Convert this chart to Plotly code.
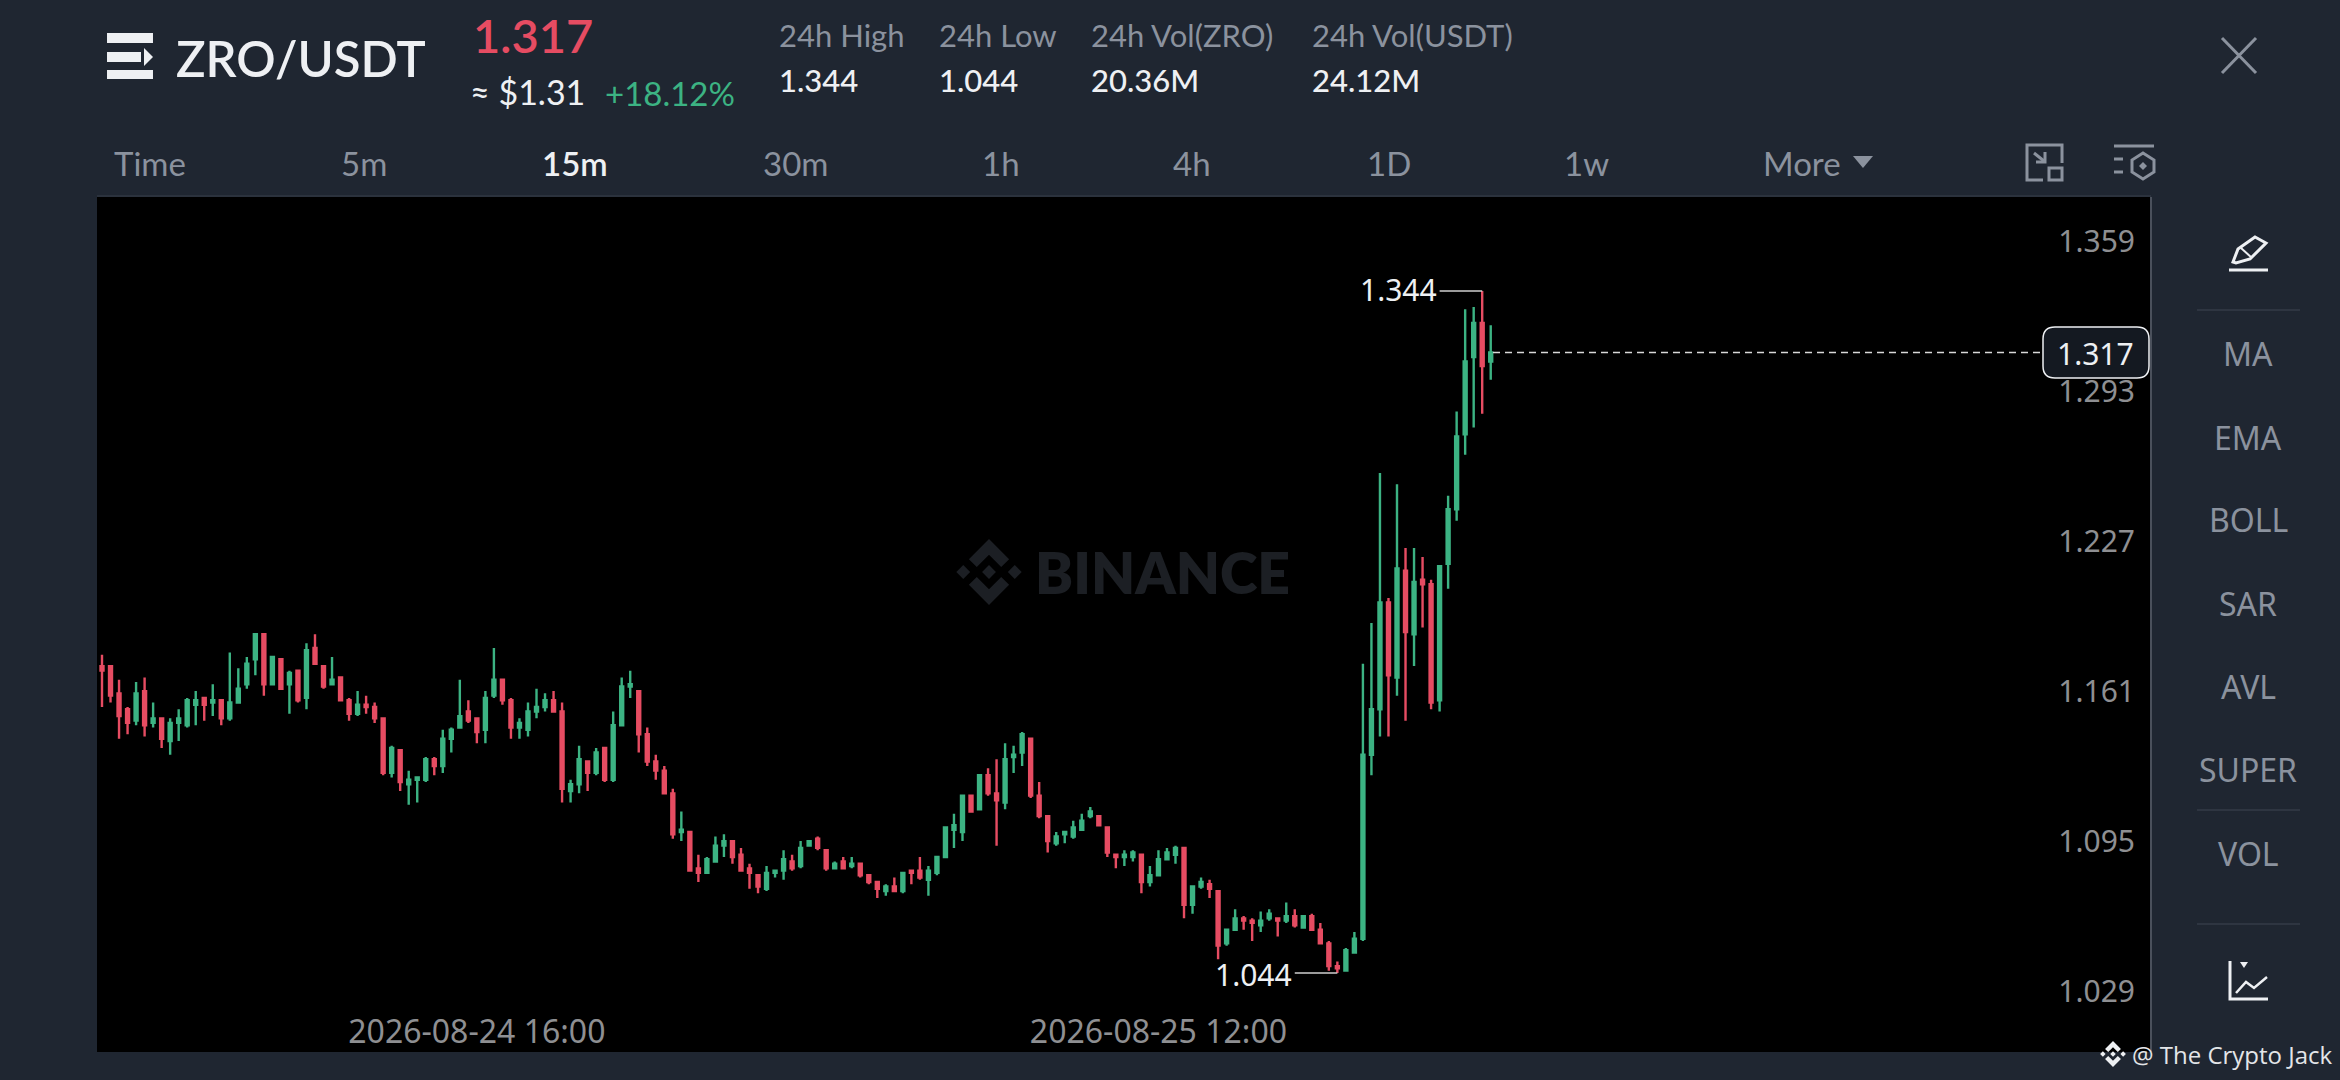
"""ZRO/USDT 15m candlestick screen, Binance style."""
import pandas as pd
import plotly.graph_objects as go

WIDTH = 2340
HEIGHT = 1080

BG = "#1f2631"
GREY = "#8b929e"
AXIS_GREY = "#8e8f92"
WHITE = "#eef0f3"
GREEN = "#3cb383"
RED = "#e64c62"
UI_FONT = "Lato"
NUM_FONT = "Noto Sans"

opens = [1.179, 1.179, 1.167, 1.160, 1.155, 1.168, 1.154, 1.156, 1.146, 1.154,
         1.153, 1.162, 1.165, 1.163, 1.164, 1.156, 1.163, 1.171, 1.182, 1.193,
         1.171, 1.182, 1.171, 1.177, 1.165, 1.187, 1.179, 1.171, 1.174, 1.164,
         1.158, 1.162, 1.161, 1.156, 1.132, 1.142, 1.127, 1.129, 1.129, 1.138,
         1.135, 1.147, 1.152, 1.159, 1.156, 1.151, 1.166, 1.173, 1.164, 1.152,
         1.151, 1.159, 1.161, 1.164, 1.159, 1.124, 1.127, 1.137, 1.132, 1.143,
         1.129, 1.153, 1.170, 1.168, 1.149, 1.137, 1.133, 1.123, 1.106, 1.106,
         1.090, 1.088, 1.093, 1.100, 1.102, 1.096, 1.090, 1.087, 1.081, 1.088,
         1.089, 1.093, 1.091, 1.100, 1.103, 1.098, 1.090, 1.093, 1.091, 1.092,
         1.087, 1.084, 1.080, 1.082, 1.080, 1.089, 1.089, 1.085, 1.088, 1.095,
         1.107, 1.106, 1.122, 1.116, 1.131, 1.123, 1.119, 1.139, 1.141, 1.147,
         1.122, 1.113, 1.101, 1.105, 1.104, 1.107, 1.113, 1.113, 1.108, 1.096,
         1.095, 1.095, 1.096, 1.084, 1.087, 1.094, 1.096, 1.099, 1.074, 1.082,
         1.083, 1.080, 1.057, 1.063, 1.068, 1.067, 1.065, 1.068, 1.068, 1.067,
         1.069, 1.064, 1.069, 1.063, 1.057, 1.047, 1.045, 1.053, 1.059, 1.140,
         1.160, 1.207, 1.174, 1.221, 1.193, 1.217, 1.215, 1.164, 1.224, 1.248,
         1.281, 1.315, 1.330, 1.313]
highs = [1.184, 1.179, 1.173, 1.161, 1.172, 1.174, 1.163, 1.156, 1.156, 1.160,
         1.165, 1.168, 1.165, 1.171, 1.164, 1.185, 1.178, 1.183, 1.193, 1.193,
         1.183, 1.182, 1.177, 1.177, 1.189, 1.193, 1.179, 1.183, 1.174, 1.165,
         1.168, 1.166, 1.163, 1.156, 1.144, 1.142, 1.133, 1.130, 1.139, 1.139,
         1.151, 1.152, 1.173, 1.164, 1.156, 1.168, 1.187, 1.173, 1.165, 1.156,
         1.163, 1.169, 1.167, 1.168, 1.163, 1.129, 1.144, 1.137, 1.143, 1.143,
         1.159, 1.174, 1.177, 1.168, 1.152, 1.140, 1.135, 1.125, 1.115, 1.106,
         1.096, 1.095, 1.104, 1.105, 1.102, 1.099, 1.092, 1.087, 1.091, 1.089,
         1.098, 1.096, 1.102, 1.102, 1.104, 1.098, 1.093, 1.095, 1.095, 1.092,
         1.087, 1.084, 1.083, 1.086, 1.088, 1.089, 1.095, 1.091, 1.095, 1.108,
         1.114, 1.122, 1.122, 1.131, 1.134, 1.138, 1.145, 1.144, 1.150, 1.147,
         1.128, 1.113, 1.106, 1.106, 1.111, 1.114, 1.117, 1.113, 1.108, 1.096,
         1.098, 1.098, 1.096, 1.091, 1.098, 1.099, 1.100, 1.099, 1.082, 1.086,
         1.085, 1.080, 1.063, 1.072, 1.069, 1.068, 1.071, 1.072, 1.068, 1.075,
         1.072, 1.069, 1.070, 1.066, 1.058, 1.049, 1.055, 1.062, 1.180, 1.198,
         1.264, 1.209, 1.259, 1.231, 1.231, 1.227, 1.217, 1.223, 1.254, 1.291,
         1.336, 1.337, 1.344, 1.329]
lows = [1.161, 1.163, 1.147, 1.149, 1.153, 1.148, 1.152, 1.143, 1.140, 1.146,
        1.152, 1.153, 1.155, 1.157, 1.153, 1.155, 1.163, 1.169, 1.175, 1.166,
        1.171, 1.169, 1.158, 1.163, 1.160, 1.180, 1.169, 1.171, 1.164, 1.155,
        1.157, 1.158, 1.154, 1.131, 1.130, 1.124, 1.118, 1.119, 1.128, 1.131,
        1.132, 1.141, 1.152, 1.154, 1.145, 1.145, 1.165, 1.162, 1.147, 1.147,
        1.148, 1.156, 1.159, 1.159, 1.119, 1.119, 1.123, 1.124, 1.131, 1.128,
        1.128, 1.153, 1.165, 1.141, 1.135, 1.129, 1.123, 1.103, 1.102, 1.089,
        1.084, 1.088, 1.093, 1.095, 1.092, 1.089, 1.081, 1.079, 1.080, 1.086,
        1.085, 1.089, 1.090, 1.100, 1.098, 1.089, 1.090, 1.090, 1.090, 1.086,
        1.083, 1.077, 1.078, 1.080, 1.079, 1.083, 1.085, 1.078, 1.087, 1.095,
        1.099, 1.102, 1.115, 1.116, 1.122, 1.100, 1.116, 1.132, 1.135, 1.121,
        1.112, 1.097, 1.100, 1.101, 1.103, 1.107, 1.112, 1.109, 1.095, 1.090,
        1.091, 1.093, 1.079, 1.082, 1.087, 1.094, 1.092, 1.068, 1.070, 1.081,
        1.077, 1.050, 1.056, 1.063, 1.063, 1.058, 1.062, 1.067, 1.060, 1.066,
        1.064, 1.064, 1.063, 1.057, 1.045, 1.044, 1.045, 1.053, 1.058, 1.131,
        1.148, 1.148, 1.166, 1.155, 1.179, 1.196, 1.160, 1.159, 1.213, 1.243,
        1.272, 1.284, 1.290, 1.305]
closes = [1.177, 1.166, 1.157, 1.154, 1.167, 1.153, 1.156, 1.147, 1.154, 1.156,
          1.164, 1.164, 1.162, 1.164, 1.156, 1.163, 1.169, 1.180, 1.193, 1.171,
          1.183, 1.169, 1.176, 1.164, 1.186, 1.180, 1.170, 1.173, 1.164, 1.158,
          1.162, 1.161, 1.156, 1.132, 1.143, 1.128, 1.129, 1.130, 1.138, 1.135,
          1.147, 1.151, 1.157, 1.155, 1.150, 1.165, 1.173, 1.164, 1.152, 1.154,
          1.159, 1.161, 1.164, 1.159, 1.125, 1.127, 1.138, 1.132, 1.141, 1.129,
          1.153, 1.170, 1.171, 1.149, 1.137, 1.133, 1.123, 1.105, 1.107, 1.089,
          1.088, 1.094, 1.100, 1.102, 1.095, 1.089, 1.088, 1.082, 1.088, 1.089,
          1.094, 1.090, 1.099, 1.102, 1.099, 1.090, 1.092, 1.090, 1.092, 1.087,
          1.084, 1.081, 1.082, 1.080, 1.088, 1.088, 1.086, 1.089, 1.095, 1.108,
          1.109, 1.122, 1.115, 1.131, 1.123, 1.120, 1.138, 1.140, 1.149, 1.122,
          1.113, 1.102, 1.104, 1.106, 1.108, 1.111, 1.115, 1.109, 1.097, 1.095,
          1.096, 1.097, 1.084, 1.087, 1.094, 1.097, 1.099, 1.074, 1.082, 1.084,
          1.081, 1.056, 1.063, 1.068, 1.067, 1.066, 1.067, 1.070, 1.067, 1.069,
          1.065, 1.069, 1.063, 1.057, 1.047, 1.046, 1.054, 1.059, 1.140, 1.160,
          1.207, 1.175, 1.222, 1.194, 1.216, 1.215, 1.163, 1.223, 1.248, 1.280,
          1.313, 1.330, 1.311, 1.317]

times = pd.date_range("2026-08-24 05:00", periods=len(opens), freq="15min")

price_ticks = [1.359, 1.293, 1.227, 1.161, 1.095, 1.029]
date_ticks = ["2026-08-24 16:00", "2026-08-25 12:00"]
last_price = closes[-1]

intervals = ["Time", "5m", "15m", "30m", "1h", "4h", "1D", "1w", "More"]
indicators = ["MA", "EMA", "BOLL", "SAR", "AVL", "SUPER", "VOL"]
stat_names = ["24h High", "24h Low", "24h Vol(ZRO)", "24h Vol(USDT)"]
stat_values = ["1.344", "1.044", "20.36M", "24.12M"]

# pixel layout of the screen furniture
interval_x = [150, 364, 575, 795, 1001, 1192, 1389, 1586, 1802]
indicator_y = [354, 437, 520, 603, 686, 769, 853]
stat_x = [777, 937, 1089, 1310]


def px(x):
    return x / WIDTH


def py(y):
    return 1 - y / HEIGHT


def label(text, x, y, size, color, anchor="left", font=UI_FONT, weight=400):
    return dict(text=text, x=px(x), y=py(y), xref="paper", yref="paper", showarrow=False,
                xanchor=anchor, yanchor="middle",
                font=dict(family=font, size=size, color=color, weight=weight))


def line(x0, y0, x1, y1, color, width=3):
    return dict(type="line", x0=px(x0), y0=py(y0), x1=px(x1), y1=py(y1), xref="paper", yref="paper",
                line=dict(color=color, width=width))


def poly(points, color=None, outline=None, width=3, close=True):
    d = "M" + " L".join(f"{px(x):.5f},{py(y):.5f}" for x, y in points) + (" Z" if close else "")
    return dict(type="path", path=d, xref="paper", yref="paper",
                fillcolor=color if color else "rgba(0,0,0,0)",
                line=dict(color=outline if outline else "rgba(0,0,0,0)", width=width))


def rounded_box(x0, y0, x1, y1, r, color, outline):
    p = lambda x, y: f"{px(x):.5f},{py(y):.5f}"
    d = (f"M{p(x0 + r, y0)} L{p(x1 - r, y0)} Q{p(x1, y0)} {p(x1, y0 + r)} L{p(x1, y1 - r)} "
         f"Q{p(x1, y1)} {p(x1 - r, y1)} L{p(x0 + r, y1)} Q{p(x0, y1)} {p(x0, y1 - r)} "
         f"L{p(x0, y0 + r)} Q{p(x0, y0)} {p(x0 + r, y0)} Z")
    return dict(type="path", path=d, xref="paper", yref="paper", fillcolor=color,
                line=dict(color=outline, width=1.5))


def logo(cx, cy, r, color):
    """Binance diamond mark made of five pieces."""
    out = []
    chevron = [(0, -1), (0.61, -0.39), (0.37, -0.15), (0, -0.52), (-0.37, -0.15), (-0.61, -0.39)]
    small = [(0, -0.21), (0.21, 0), (0, 0.21), (-0.21, 0)]
    for sign in (-1, 1):
        out.append(poly([(cx + a * r, cy + sign * b * r) for a, b in chevron], color))
        out.append(poly([(cx + sign * 0.78 * r + a * r, cy + b * r) for a, b in small], color))
    out.append(poly([(cx + a * r, cy + b * r) for a, b in small], color))
    return out


fig = go.Figure(go.Candlestick(
    x=times, open=opens, high=highs, low=lows, close=closes,
    increasing=dict(line=dict(color=GREEN, width=2.4), fillcolor=GREEN),
    decreasing=dict(line=dict(color=RED, width=2.4), fillcolor=RED),
    whiskerwidth=0,
))

annotations = []
shapes = []

# header
annotations.append(label("ZRO/USDT", 174, 58, 49, WHITE, weight=600))
annotations.append(label("1.317", 471, 35, 47, RED, weight=600))
annotations.append(label("≈ $1.31", 468, 92, 34, WHITE))
annotations.append(label("+18.12%", 603, 93, 33, GREEN))
for name, value, x in zip(stat_names, stat_values, stat_x):
    annotations.append(label(name, x, 35, 31, GREY))
    annotations.append(label(value, x, 80, 31, WHITE, weight=500))

# hamburger mark
shapes += [
    poly([(107, 33), (153, 33), (153, 43), (107, 43)], WHITE),
    poly([(107, 52), (141, 52), (141, 62), (107, 62)], WHITE),
    poly([(144, 48), (153, 57), (144, 66)], WHITE),
    poly([(107, 70), (153, 70), (153, 79), (107, 79)], WHITE),
]

# close cross
shapes.append(line(2222, 38, 2256, 73, GREY, 3))
shapes.append(line(2256, 38, 2222, 73, GREY, 3))

# interval row
for name, x in zip(intervals, interval_x):
    if name == "15m":
        annotations.append(label(name, x, 163, 33, WHITE, "center", weight=600))
    else:
        annotations.append(label(name, x, 163, 33, GREY, "center"))
shapes.append(poly([(1853, 156), (1873, 156), (1863, 168)], GREY))

# two small toolbar icons
shapes.append(poly([(2062, 163), (2062, 145), (2027, 145), (2027, 180), (2043, 180)], None, GREY, 3, close=False))
shapes.append(poly([(2049, 168), (2062, 168), (2062, 180), (2049, 180)], None, GREY, 3))
shapes.append(poly([(2034, 153), (2044, 161)], None, GREY, 3, close=False))
shapes.append(poly([(2045, 152), (2045, 162), (2036, 162)], None, GREY, 3, close=False))
shapes.append(line(2114, 146, 2154, 146, GREY, 3))
shapes.append(line(2114, 159, 2123, 159, GREY, 3))
shapes.append(line(2114, 172, 2123, 172, GREY, 3))
shapes.append(poly([(2143, 153), (2154, 160), (2154, 172), (2143, 179), (2132, 172), (2132, 160)], None, GREY, 3))
shapes.append(poly([(2143, 162), (2147, 166), (2143, 170), (2139, 166)], GREY))

# plot edge
shapes.append(line(2151, 197, 2151, 1052, "#4a505b", 2))
shapes.append(line(97, 196, 2151, 196, "#2b323d", 2))

# watermark
shapes += logo(989, 572, 33, "#1c1f24")
annotations.append(label("BINANCE", 1033, 572, 57, "#1c1f24", font="Lato", weight=800))

# last price line and tag
shapes.append(dict(type="line", x0=px(1493), x1=px(2043), y0=last_price, y1=last_price,
                   xref="paper", yref="y", line=dict(color="#d8d8d8", width=1.5, dash="7px,5px")))
shapes.append(rounded_box(2043, 327, 2149, 378, 12, "#141921", WHITE))
annotations.append(label("1.317", 2136, 354, 30, WHITE, "right", NUM_FONT))

# high / low markers, five candles wide
high_i = highs.index(max(highs))
low_i = lows.index(min(lows))
for i, value, shift in ((high_i, highs[high_i], 2), (low_i, lows[low_i], -2)):
    shapes.append(dict(type="line", x0=times[i], x1=times[i - 5], y0=value, y1=value, xref="x", yref="y",
                       line=dict(color="#cfcfcf", width=1.5)))
    annotations.append(dict(text=f"{value:.3f}", x=times[i - 5], y=value, xref="x", yref="y", showarrow=False,
                            xanchor="right", yanchor="middle", xshift=-1, yshift=shift,
                            font=dict(family=NUM_FONT, size=30, color=WHITE)))

# indicator panel
shapes.append(poly([(2233, 262), (2238, 249), (2255, 237), (2266, 243), (2250, 259), (2236, 263)], None, WHITE, 3))
shapes.append(line(2241, 248, 2252, 258, WHITE, 2))
shapes.append(line(2229, 270, 2268, 270, WHITE, 3))
for y in (310, 810, 924):
    shapes.append(line(2197, y, 2300, y, "#343b47", 1.5))
for name, y in zip(indicators, indicator_y):
    annotations.append(label(name, 2248, y, 32, GREY, "center", NUM_FONT))

# chart type icon
shapes.append(poly([(2230, 961), (2230, 999), (2268, 999)], None, WHITE, 3, close=False))
shapes.append(poly([(2236, 993), (2246, 982), (2254, 988), (2267, 977)], None, WHITE, 2.5, close=False))
shapes.append(poly([(2240, 962), (2248, 962), (2244, 968)], WHITE))

# credit
shapes += logo(2113, 1054, 13, WHITE)
annotations.append(label("@ The Crypto Jack", 2130, 1054, 24, "#e3e5e8", font="Open Sans"))

fig.update_layout(
    width=WIDTH,
    height=HEIGHT,
    autosize=False,
    margin=dict(l=0, r=0, t=0, b=0),
    paper_bgcolor=BG,
    plot_bgcolor="#000000",
    showlegend=False,
    boxgap=0.5,
    annotations=annotations,
    shapes=shapes,
    xaxis=dict(
        domain=[px(97), px(2151)],
        range=["2026-08-24 04:51:12", "2026-08-26 17:07:30"],
        rangeslider=dict(visible=False),
        showgrid=False,
        zeroline=False,
        showline=False,
        ticks="",
        tickmode="array",
        tickvals=date_ticks,
        tickformat="%Y-%m-%d %H:%M",
        ticklabelposition="inside",
        tickfont=dict(family=NUM_FONT, size=32, color=AXIS_GREY),
    ),
    yaxis=dict(
        domain=[py(1052), py(197)],
        range=[1.0092, 1.3854],
        side="right",
        showgrid=False,
        zeroline=False,
        showline=False,
        ticks="",
        tickmode="array",
        tickvals=price_ticks,
        tickformat=".3f",
        ticklabelposition="inside",
        ticklabelstandoff=13,
        ticklabelshift=-16,
        tickfont=dict(family=NUM_FONT, size=30, color=AXIS_GREY),
    ),
)

fig.write_html("out.html", config={"displayModeBar": False},
               post_script="document.body.style.margin='0';document.body.style.overflow='hidden';")
